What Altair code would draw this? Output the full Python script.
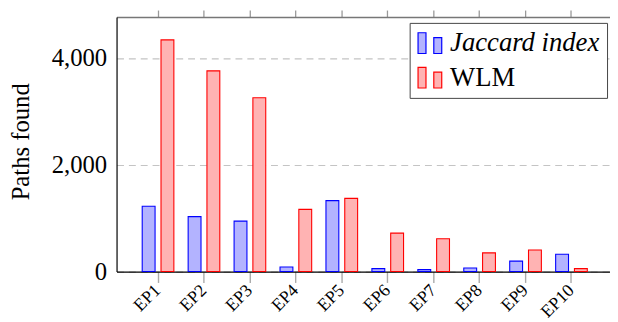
import altair as alt
import pandas as pd

categories = ["EP1", "EP2", "EP3", "EP4", "EP5", "EP6", "EP7", "EP8", "EP9", "EP10"]
series_names = ["Jaccard index", "WLM"]
jaccard = [1225, 1030, 945, 85, 1330, 55, 37, 67, 196, 325]
wlm = [4340, 3760, 3255, 1165, 1372, 720, 615, 350, 405, 55]
y_ticks = [0, 2000, 4000]

rows = []
for c, j, w in zip(categories, jaccard, wlm):
    rows.append({"ep": c, "series": series_names[0], "value": j})
    rows.append({"ep": c, "series": series_names[1], "value": w})
df = pd.DataFrame(rows)

FONT = "'Liberation Serif', 'Times New Roman', 'DejaVu Serif', serif"
fill_colors = ["#b3b3ff", "#ffb3b3"]
stroke_colors = ["#0000ff", "#ff0000"]

legend_symbol = ("M-1,-0.875L-0.33,-0.875L-0.33,0.875L-1,0.875Z"
                 "M0.33,-0.46L1,-0.46L1,0.875L0.33,0.875Z")

xscale = alt.Scale(domain=categories, range=[0, 503], paddingInner=0, paddingOuter=0.403)
yscale = alt.Scale(domain=[0, 4770], nice=False, zero=True)

bars = alt.Chart(df).mark_bar(strokeWidth=1.1).encode(
    x=alt.X("ep:N", scale=xscale, sort=categories,
            axis=alt.Axis(title=None, orient="bottom", labelAngle=315, labelAlign="right",
                          labelBaseline="middle", labelPadding=5, labelFont=FONT,
                          labelFontSize=18, labelColor="black", tickColor="#aaaaaa",
                          tickSize=11, tickWidth=1.4, domainColor="black", domainWidth=1.2,
                          grid=False)),
    xOffset=alt.XOffset("series:N", sort=series_names,
                        scale=alt.Scale(paddingInner=0.316, paddingOuter=0.38)),
    y=alt.Y("value:Q", scale=yscale,
            axis=alt.Axis(title="Paths found", values=y_ticks, format=",.0f", ticks=False,
                          labelPadding=10, labelFont=FONT, labelFontSize=25,
                          labelColor="black", domainColor="black", domainWidth=1.2,
                          grid=True, gridColor="#c4c4c4", gridDash=[7, 5], gridWidth=1.2,
                          titleFont=FONT, titleFontSize=25, titleFontWeight="normal",
                          titleColor="black", titleAngle=270, titleX=-97, titleY=126,
                          titleAlign="center", titleBaseline="middle")),
    fill=alt.Fill("series:N", sort=series_names,
                  scale=alt.Scale(domain=series_names, range=fill_colors),
                  legend=alt.Legend(title=None, orient="none", legendX=297, legendY=6,
                                    symbolType=legend_symbol, symbolSize=576,
                                    symbolStrokeWidth=1.2, labelFont=FONT, labelFontSize=27,
                                    labelFontStyle={"expr": "datum.label == 'Jaccard index' ? 'italic' : 'normal'"},
                                    labelColor="black", labelOffset=7, rowPadding=7,
                                    padding=7, strokeColor="#444444", fillColor="white",
                                    labelLimit=400)),
    stroke=alt.Stroke("series:N", sort=series_names,
                      scale=alt.Scale(domain=series_names, range=stroke_colors),
                      legend=alt.Legend(title=None, orient="none", legendX=297, legendY=6)),
)

top = alt.Chart(df).mark_point(opacity=0).encode(
    x=alt.X("ep:N", scale=xscale, sort=categories,
            axis=alt.Axis(title=None, orient="top", labels=False, tickColor="#999999",
                          tickSize=7, tickWidth=1.3, domainColor="#777777",
                          domainWidth=1.6, grid=False)),
    y=alt.Y("value:Q", scale=yscale),
)

chart = alt.layer(bars, top).properties(
    width=500, height=258,
    autosize=alt.AutoSizeParams(type="none"),
    padding={"left": 110, "top": 7, "right": 0, "bottom": 48},
).configure_view(stroke=None)

chart.save("out.html", embed_options={"renderer": "svg", "actions": False})
